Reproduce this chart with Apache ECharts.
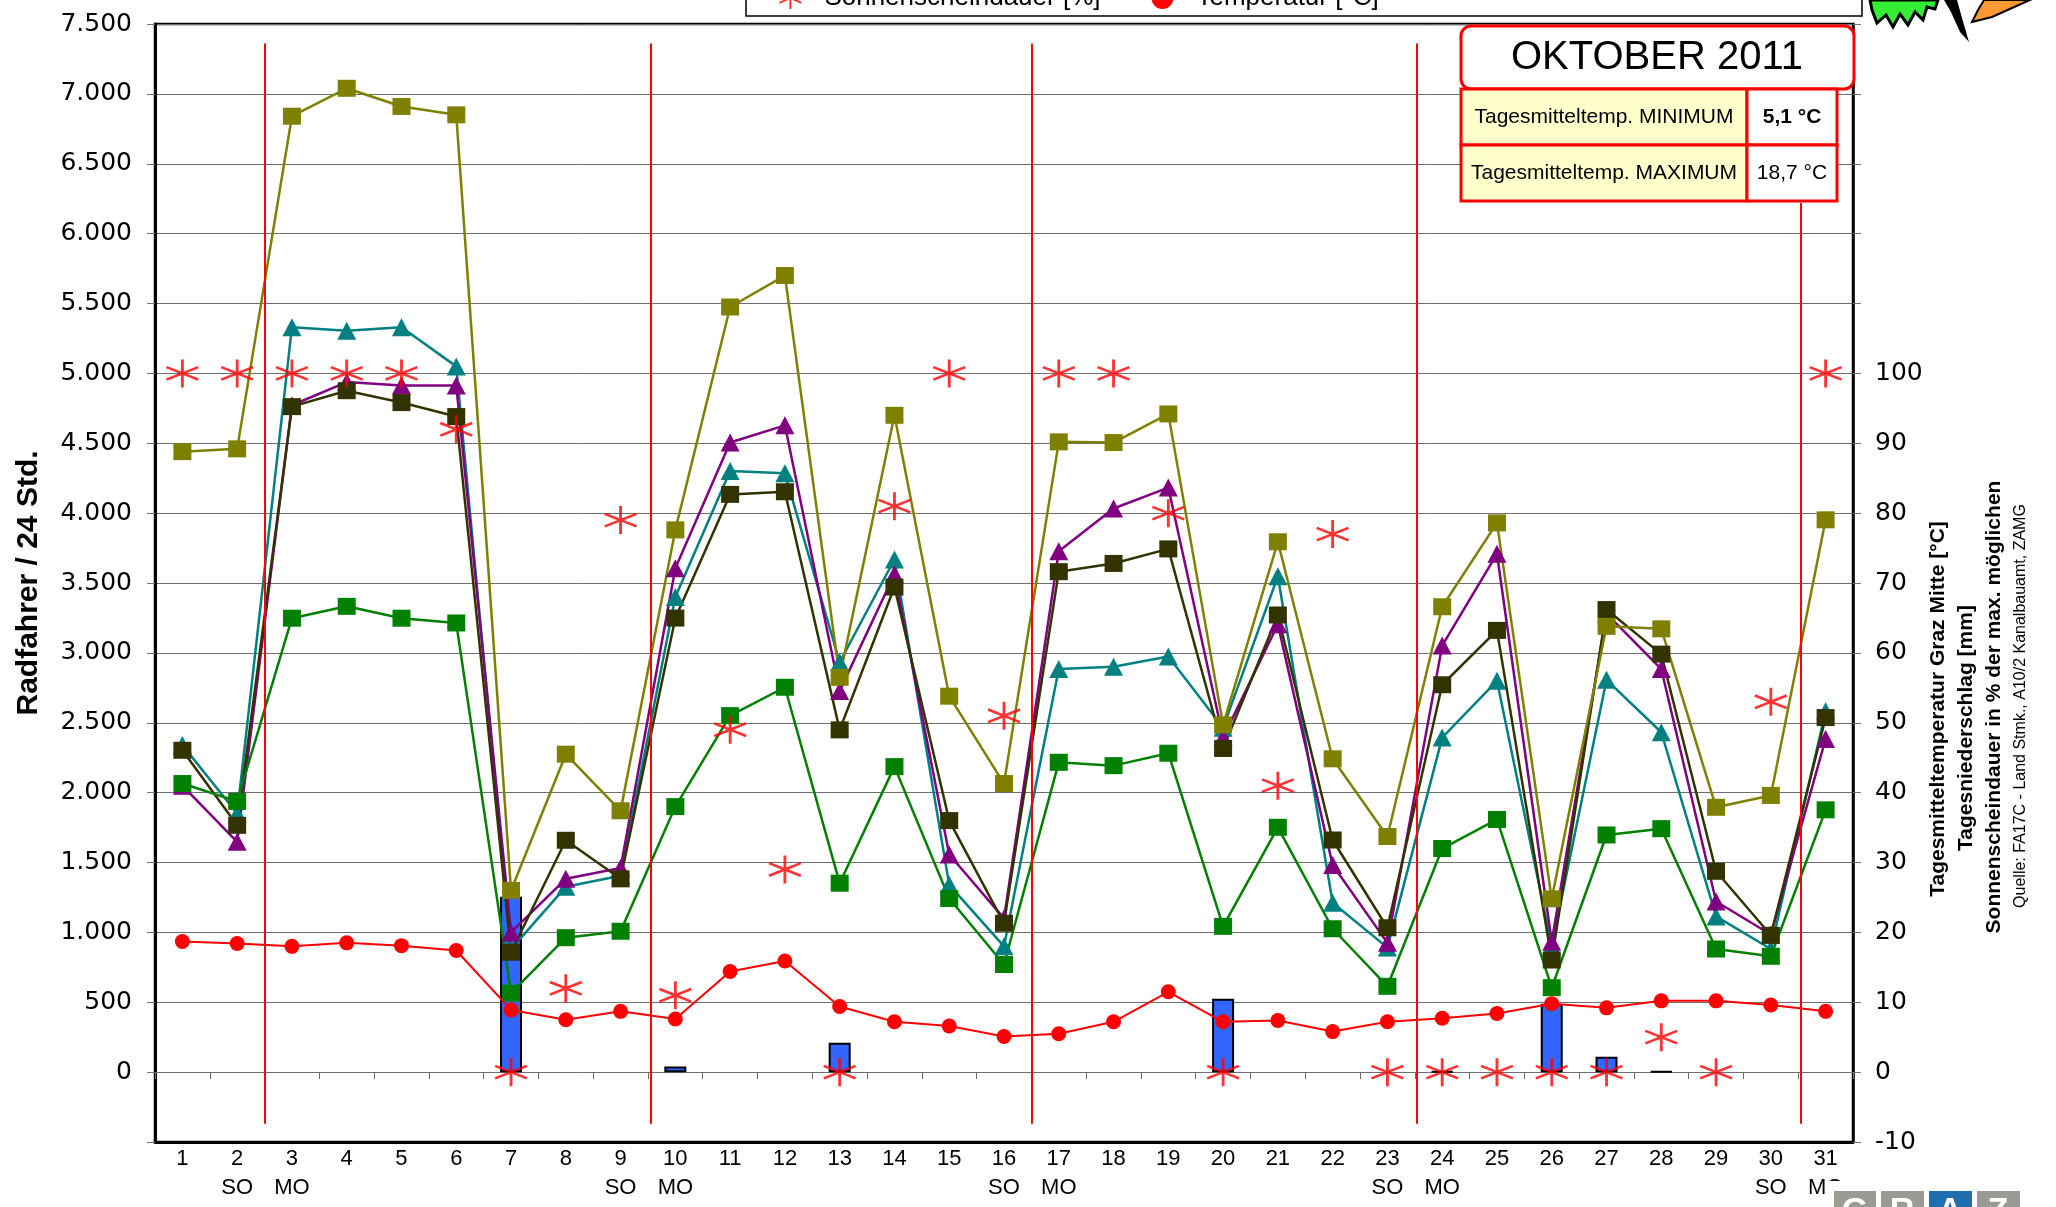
<!DOCTYPE html>
<html>
<head>
<meta charset="utf-8">
<script src="https://cdn.jsdelivr.net/npm/echarts@6/dist/echarts.min.js"></script>
<style>
html,body{margin:0;padding:0;background:#fff;}
#main{width:2056px;height:1207px;}
</style>
</head>
<body>
<div id="main"></div>
<script>
// ---------- data ----------
const days = ['1','2','3','4','5','6','7','8','9','10','11','12','13','14','15','16','17','18','19','20','21','22','23','24','25','26','27','28','29','30','31'];
const weekdayMarks = ['','SO','MO','','','','','','SO','MO','','','','','','SO','MO','','','','','','SO','MO','','','','','','SO','MO'];
const leftTicks = ['0','500','1.000','1.500','2.000','2.500','3.000','3.500','4.000','4.500','5.000','5.500','6.000','6.500','7.000','7.500'];
const rightTicks = ['-10','0','10','20','30','40','50','60','70','80','90','100'];

const stationOlive  = [4440,4460,6840,7040,6910,6850,1300,2275,1870,3880,5475,5700,2825,4700,2690,2065,4510,4505,4710,2485,3795,2242,1686,3330,3930,1240,3190,3172,1895,1980,3952];
const stationTeal   = [2340,1850,5330,5305,5330,5050,880,1326,1405,3400,4302,4285,2933,3668,1340,900,2885,2901,2974,2465,3548,1212,891,2394,2800,900,2807,2432,1114,881,2582];
const stationPurple = [2050,1648,4772,4938,4914,4914,1000,1383,1460,3605,4505,4628,2728,3562,1557,1100,3727,4033,4183,2394,3204,1482,925,3052,3709,933,3280,2884,1221,985,2384];
const stationDark   = [2303,1766,4762,4876,4791,4691,858,1659,1383,3249,4134,4153,2449,3471,1800,1065,3581,3640,3744,2316,3271,1661,1033,2772,3161,802,3310,2991,1437,979,2537];
const stationGreen  = [2065,1937,3248,3333,3248,3214,565,962,1008,1900,2551,2754,1352,2186,1242,770,2217,2193,2282,1043,1752,1026,614,1600,1808,604,1697,1742,881,829,1877];
const temperature   = [18.7,18.4,18.0,18.5,18.1,17.4,8.9,7.5,8.7,7.6,14.4,15.9,9.4,7.2,6.6,5.1,5.5,7.2,11.5,7.2,7.4,5.8,7.2,7.7,8.4,9.8,9.2,10.2,10.2,9.6,8.7];
const sunshine      = [100,100,100,100,100,92,0,12,79,11,49,29,0,81,100,51,100,100,80,0,41,77,0,0,0,0,0,5,0,53,100];
const precipitation = [0,0,0,0,0,0,25.1,0,0,0.8,0,0,4.2,0,0,0,0,0,0,10.5,0,0,0,0.1,0,9.8,2.2,0.1,0,0,0];
const weekSeparators = [2.5, 9.55, 16.5, 23.53, 30.55];

// ---------- chart ----------
const asteriskPath = 'path://M13.2,0L15.8,0L15.8,29L13.2,29Z M0.53,6.81L29.53,19.81L28.47,22.19L-0.53,9.19Z M-0.53,19.81L28.47,6.81L29.53,9.19L0.53,22.19Z';
const FONT = '"Liberation Sans", Arial, sans-serif';
const NUMFONT = '"DejaVu Sans", sans-serif';
const GRIDCOLOR = '#6E6E6E';

const chart = echarts.init(document.getElementById('main'));

function stationLine(name, data, color, symbol, size, z) {
  return {
    name: name, type: 'line', xAxisIndex: 0, yAxisIndex: 0, data: data,
    symbol: symbol, symbolSize: size, z: z,
    lineStyle: { color: color, width: 2.5 },
    itemStyle: { color: color },
    emphasis: { disabled: true }
  };
}

const sepLines = weekSeparators.map((x, i) => [
  { coord: [x, i === weekSeparators.length - 1 ? 6220 : 7360] },
  { coord: [x, -370] }
]);

const option = {
  animation: false,
  backgroundColor: '#fff',
  textStyle: { fontFamily: FONT },
  grid: { left: 155, right: 203, top: 24, bottom: 65, show: true, borderColor: '#000', borderWidth: 2.5, backgroundColor: 'transparent' },
  legend: {
    left: 779, top: -15, padding: 0, itemGap: 51, itemWidth: 28, itemHeight: 22,
    textStyle: { fontSize: 26, fontFamily: FONT, color: '#000', padding: [0, 0, 0, 15] },
    data: [
      { name: 'Sonnenscheindauer [%]', icon: asteriskPath },
      { name: 'Temperatur [°C]', icon: 'circle' }
    ]
  },
  xAxis: [
    {
      type: 'category', data: days, position: 'bottom', boundaryGap: true,
      axisLine: { onZero: false, lineStyle: { color: '#000', width: 3 } },
      axisTick: { show: false },
      axisLabel: {
        formatter: (v, i) => v + '\n' + (weekdayMarks[i] || ' '),
        fontSize: 22, fontFamily: FONT, color: '#000', lineHeight: 29, margin: 2
      },
      splitLine: { show: false }
    },
    {
      type: 'category', data: days, position: 'bottom', boundaryGap: true,
      axisLine: { onZero: true, lineStyle: { color: GRIDCOLOR, width: 1 } },
      axisTick: { show: true, length: 7, lineStyle: { color: GRIDCOLOR, width: 1 } },
      axisLabel: { show: false },
      splitLine: { show: false }
    },
    { type: 'value', min: 0.5, max: 31.5, show: false, position: 'top' }
  ],
  yAxis: [
    {
      type: 'value', min: -500, max: 7500, interval: 500, position: 'left',
      axisLine: { show: true, lineStyle: { color: '#000', width: 3 } },
      axisTick: { show: true, length: 8, lineStyle: { color: GRIDCOLOR } },
      splitLine: { show: true, lineStyle: { color: GRIDCOLOR, width: 1 } },
      axisLabel: { formatter: v => v < 0 ? '' : leftTicks[Math.round(v / 500)], fontSize: 25, fontFamily: NUMFONT, color: '#000', margin: 23 },
      name: 'Radfahrer / 24 Std.', nameLocation: 'middle', nameGap: 111,
      nameTextStyle: { fontSize: 30, fontWeight: 'bold', fontFamily: FONT, color: '#000' }
    },
    {
      type: 'value', min: -10, max: 150, interval: 10, position: 'right',
      axisLine: { show: true, lineStyle: { color: '#000', width: 2.5 } },
      axisTick: { show: true, length: 8, lineStyle: { color: GRIDCOLOR } },
      splitLine: { show: false },
      axisLabel: { formatter: v => v > 100 ? '' : rightTicks[Math.round((v + 10) / 10)], fontSize: 25, fontFamily: NUMFONT, color: '#000', margin: 22 }
    }
  ],
  series: [
    {
      name: 'Niederschlag [mm]', type: 'bar', xAxisIndex: 0, yAxisIndex: 1,
      data: precipitation.map(v => v > 0 ? v : null), barWidth: 22, z: 1,
      itemStyle: { color: '#3366FF', borderColor: '#000', borderWidth: 2 }
    },
    stationLine('Zählstelle 2', stationTeal, '#008080', 'triangle', [19, 18], 2),
    stationLine('Zählstelle 3', stationPurple, '#800080', 'triangle', [19, 18], 2),
    stationLine('Zählstelle 4', stationDark, '#333300', 'rect', [18, 17], 2),
    stationLine('Zählstelle 5', stationGreen, '#008000', 'rect', [18, 17], 2),
    stationLine('Zählstelle 1', stationOlive, '#808000', 'rect', [18, 17], 2),
    {
      name: 'Temperatur [°C]', type: 'line', xAxisIndex: 0, yAxisIndex: 1, data: temperature,
      symbol: 'circle', symbolSize: 15, z: 3,
      lineStyle: { color: '#FF0000', width: 2 }, itemStyle: { color: '#FF0000' }
    },
    {
      name: 'Sonnenscheindauer [%]', type: 'scatter', xAxisIndex: 0, yAxisIndex: 1, data: sunshine,
      symbol: asteriskPath, symbolSize: [33, 28], z: 4,
      itemStyle: { color: '#FF0000' }
    },
    {
      name: 'Wochentrenner', type: 'line', xAxisIndex: 2, yAxisIndex: 0, data: [],
      markLine: {
        silent: true, symbol: ['none', 'none'], animation: false,
        label: { show: false },
        lineStyle: { color: '#FF0000', width: 2, type: 'solid' },
        data: sepLines
      }
    }
  ],
  graphic: [
    // legend frame (clipped at top)
    { type: 'rect', z: 0, shape: { x: 746, y: -30, width: 1116, height: 46 }, style: { fill: '#fff', stroke: '#000', lineWidth: 1.5 } },
    // month title box
    { type: 'rect', z: 10, shape: { x: 1461, y: 26, width: 393, height: 63, r: 10 }, style: { fill: '#fff', stroke: '#FF0000', lineWidth: 3 } },
    { type: 'text', z: 11, x: 1657, y: 58, style: { text: 'OKTOBER 2011', font: '40px ' + FONT, fill: '#000', align: 'center', verticalAlign: 'middle' } },
    { type: 'rect', z: 10, shape: { x: 1461, y: 89, width: 286, height: 56 }, style: { fill: '#FFFFCC', stroke: '#FF0000', lineWidth: 3 } },
    { type: 'rect', z: 10, shape: { x: 1747, y: 89, width: 90, height: 56 }, style: { fill: '#fff', stroke: '#FF0000', lineWidth: 3 } },
    { type: 'rect', z: 10, shape: { x: 1461, y: 145, width: 286, height: 56 }, style: { fill: '#FFFFCC', stroke: '#FF0000', lineWidth: 3 } },
    { type: 'rect', z: 10, shape: { x: 1747, y: 145, width: 90, height: 56 }, style: { fill: '#fff', stroke: '#FF0000', lineWidth: 3 } },
    { type: 'text', z: 11, x: 1604, y: 117, style: { text: 'Tagesmitteltemp. MINIMUM', font: '21px ' + FONT, fill: '#000', align: 'center', verticalAlign: 'middle' } },
    { type: 'text', z: 11, x: 1792, y: 117, style: { text: '5,1 °C', font: 'bold 21px ' + FONT, fill: '#000', align: 'center', verticalAlign: 'middle' } },
    { type: 'text', z: 11, x: 1604, y: 173, style: { text: 'Tagesmitteltemp. MAXIMUM', font: '21px ' + FONT, fill: '#000', align: 'center', verticalAlign: 'middle' } },
    { type: 'text', z: 11, x: 1792, y: 173, style: { text: '18,7 °C', font: '21px ' + FONT, fill: '#000', align: 'center', verticalAlign: 'middle' } },
    // right side titles
    { type: 'text', x: 1938, y: 709, rotation: Math.PI / 2, style: { text: 'Tagesmitteltemperatur Graz Mitte [°C]', font: 'bold 21px ' + FONT, fill: '#000', align: 'center', verticalAlign: 'middle' } },
    { type: 'text', x: 1966, y: 728, rotation: Math.PI / 2, style: { text: 'Tagesniederschlag [mm]', font: 'bold 21px ' + FONT, fill: '#000', align: 'center', verticalAlign: 'middle' } },
    { type: 'text', x: 1994, y: 707, rotation: Math.PI / 2, style: { text: 'Sonnenscheindauer in % der max. möglichen', font: 'bold 21px ' + FONT, fill: '#000', align: 'center', verticalAlign: 'middle' } },
    { type: 'text', x: 2021, y: 706, rotation: Math.PI / 2, style: { text: 'Quelle: FA17C - Land Stmk., A10/2 Kanalbauamt, ZAMG', font: '16px ' + FONT, fill: '#000', align: 'center', verticalAlign: 'middle' } },
    // top-right cartoon logo (approximation)
    { type: 'polygon', z: 12, shape: { points: [[1870,0],[1938,0],[1935,9],[1927,7],[1923,20],[1915,12],[1908,25],[1900,14],[1893,27],[1886,15],[1877,23],[1872,10]] }, style: { fill: '#33EE33', stroke: '#000', lineWidth: 3 } },
    { type: 'polygon', z: 12, shape: { points: [[1944,0],[1957,0],[1962,18],[1969,42],[1960,32],[1951,12]] }, style: { fill: '#000' } },
    { type: 'polygon', z: 12, shape: { points: [[1984,0],[2030,0],[2012,8],[1992,17],[1972,22],[1978,10]] }, style: { fill: '#FF9933', stroke: '#000', lineWidth: 2 } },
    // bottom-right city logo (clipped)
    { type: 'rect', z: 12, shape: { x: 1826, y: 1181, width: 230, height: 30 }, style: { fill: '#fff' } },
    { type: 'rect', z: 13, shape: { x: 1834, y: 1191, width: 42, height: 30 }, style: { fill: '#9B9B95' } },
    { type: 'rect', z: 13, shape: { x: 1881, y: 1191, width: 43, height: 30 }, style: { fill: '#9B9B95' } },
    { type: 'rect', z: 13, shape: { x: 1929, y: 1191, width: 43, height: 30 }, style: { fill: '#1F6FAF' } },
    { type: 'rect', z: 13, shape: { x: 1977, y: 1191, width: 43, height: 30 }, style: { fill: '#9B9B95' } },
    { type: 'text', z: 14, x: 1855, y: 1212, style: { text: 'G', font: 'bold 34px ' + FONT, fill: '#fff', align: 'center', verticalAlign: 'middle' } },
    { type: 'text', z: 14, x: 1902, y: 1212, style: { text: 'R', font: 'bold 34px ' + FONT, fill: '#fff', align: 'center', verticalAlign: 'middle' } },
    { type: 'text', z: 14, x: 1950, y: 1212, style: { text: 'A', font: 'bold 34px ' + FONT, fill: '#fff', align: 'center', verticalAlign: 'middle' } },
    { type: 'text', z: 14, x: 1998, y: 1212, style: { text: 'Z', font: 'bold 34px ' + FONT, fill: '#fff', align: 'center', verticalAlign: 'middle' } }
  ]
};

chart.setOption(option);
</script>
</body>
</html>
